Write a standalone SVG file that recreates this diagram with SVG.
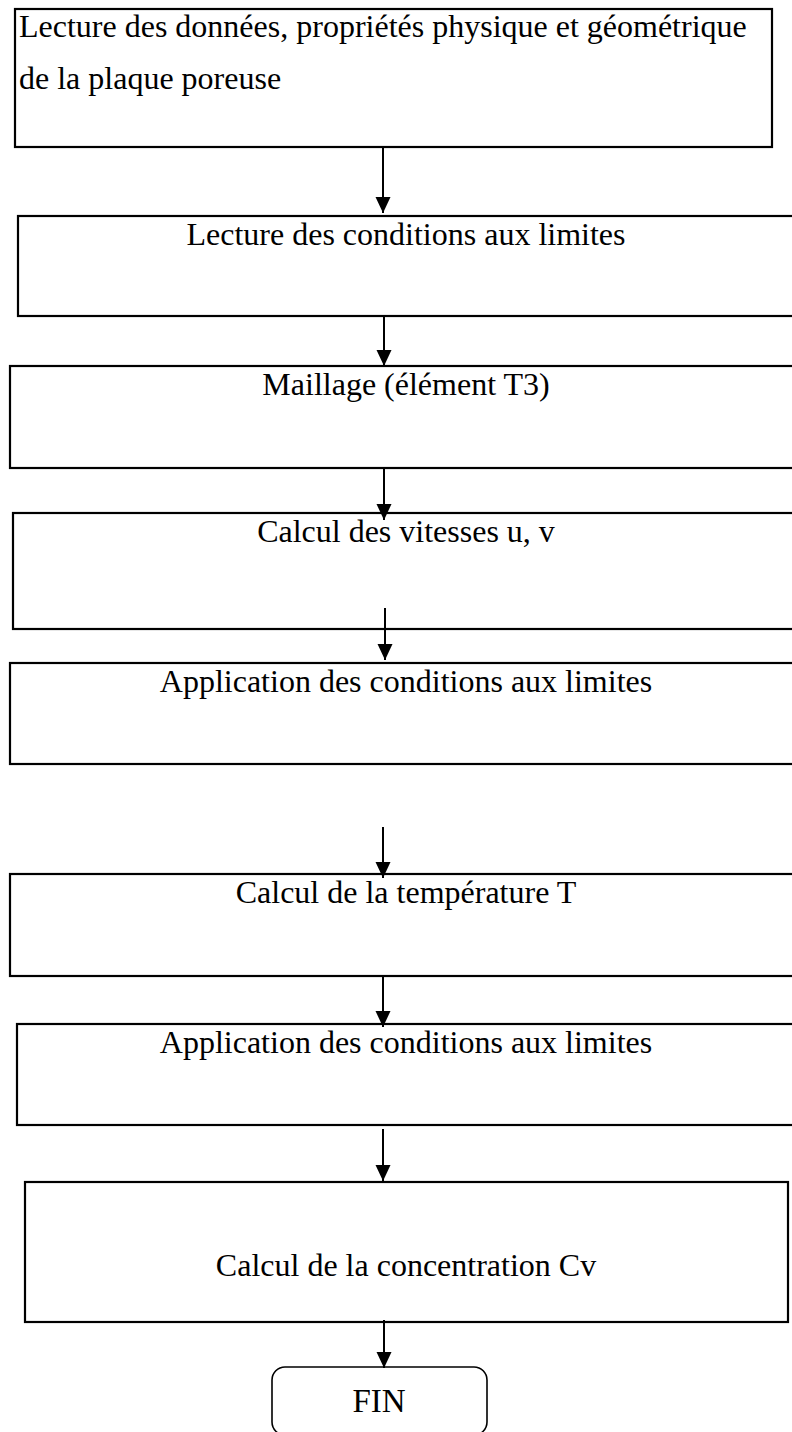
<svg xmlns="http://www.w3.org/2000/svg" width="792" height="1432" viewBox="0 0 792 1432">
<style>
.box{fill:#fff;stroke:#000;stroke-width:2.2}
.fin{fill:#fff;stroke:#000;stroke-width:1.6}
.t{font-family:"Liberation Serif","Times New Roman",serif;font-size:32px;fill:#000}
.c{text-anchor:middle}
.arr{stroke:#000;stroke-width:2;fill:none;marker-end:url(#ah)}
</style>
<defs>
<marker id="ah" markerUnits="userSpaceOnUse" markerWidth="16" markerHeight="16" refX="16" refY="7.5" orient="auto" viewBox="0 0 16 15">
<path d="M0,0 L16,7.5 L0,15 z" fill="#000"/>
</marker>
</defs>
<rect width="792" height="1432" fill="#fff"/>
<g id="n1"><rect class="box" x="15" y="9" width="757" height="138"/>
<text class="t" x="19" y="37">Lecture des données, propriétés physique et géométrique</text>
<text class="t" x="19" y="89">de la plaque poreuse</text></g>
<g id="n2"><rect class="box" x="18" y="216" width="782" height="100"/>
<text class="t c" x="406" y="245">Lecture des conditions aux limites</text></g>
<g id="n3"><rect class="box" x="10" y="366" width="792" height="102"/>
<text class="t c" x="406" y="395">Maillage (élément T3)</text></g>
<g id="n4"><rect class="box" x="13" y="513" width="792" height="116"/>
<text class="t c" x="406" y="542">Calcul des vitesses u, v</text></g>
<g id="n5"><rect class="box" x="10" y="663" width="792" height="101"/>
<text class="t c" x="406" y="692">Application des conditions aux limites</text></g>
<g id="n6"><rect class="box" x="10" y="874" width="792" height="102"/>
<text class="t c" x="406" y="903">Calcul de la température T</text></g>
<g id="n7"><rect class="box" x="17" y="1024" width="792" height="101"/>
<text class="t c" x="406" y="1053">Application des conditions aux limites</text></g>
<g id="n8"><rect class="box" x="25" y="1182" width="763" height="140"/>
<text class="t c" x="406" y="1276">Calcul de la concentration Cv</text></g>
<g id="n9"><rect class="fin" x="272" y="1367" width="215" height="68" rx="13" ry="13"/>
<text class="t c" x="379" y="1412" style="font-size:33px">FIN</text></g>
<g id="connectors">
<line class="arr" x1="383" y1="148" x2="383" y2="213"/>
<line class="arr" x1="384" y1="317" x2="384" y2="366"/>
<line class="arr" x1="384" y1="469" x2="384" y2="520"/>
<line class="arr" x1="385" y1="608" x2="385" y2="660"/>
<line class="arr" x1="383" y1="827" x2="383" y2="878"/>
<line class="arr" x1="383" y1="977" x2="383" y2="1027"/>
<line class="arr" x1="383" y1="1129" x2="383" y2="1181"/>
<line class="arr" x1="384" y1="1320" x2="384" y2="1368"/>
</g>
</svg>
